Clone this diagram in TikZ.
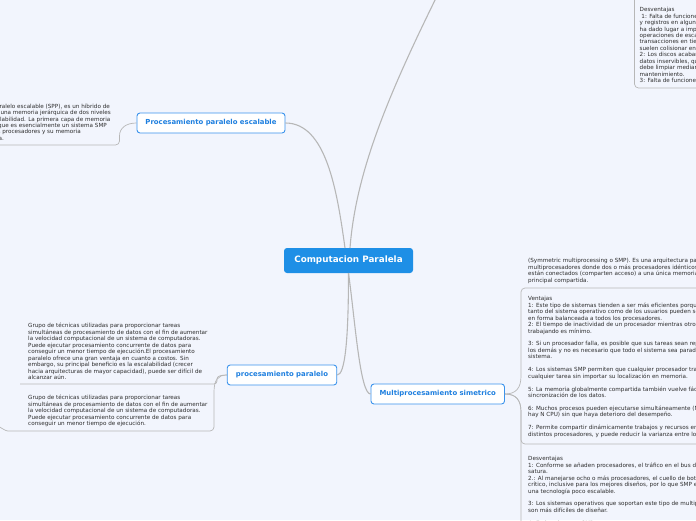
\documentclass[tikz,border=0pt]{standalone}
\usepackage{fontspec}
\setmainfont{DejaVu Sans}
\definecolor{bgc}{HTML}{F2F5FD}
\definecolor{rootblue}{HTML}{1E8FE6}
\definecolor{topicblue}{HTML}{3A92EC}
\definecolor{topictext}{HTML}{1E7FDF}
\definecolor{notegrey}{HTML}{2E2E2E}
\definecolor{conngrey}{HTML}{B7B7B7}
\tikzset{
  rootnode/.style={fill=rootblue, text=white, font=\fontsize{8.8}{10}\selectfont\bfseries,
    rounded corners=3pt, minimum width=129pt, minimum height=25pt, inner sep=0pt},
  topicnode/.style={fill=white, draw=topicblue, line width=0.9pt, text=topictext,
    font=\fontsize{6.9}{8}\selectfont\bfseries, rounded corners=3pt, minimum height=20pt, inner sep=0pt},
  notebox/.style={text=notegrey, font=\fontsize{5.65}{6.45}\selectfont, align=left,
    inner sep=0pt, anchor=north west},
  noteline/.style={text=notegrey, font=\fontsize{5.65}{6.45}\selectfont, inner sep=0pt, anchor=base east},
  mainconn/.style={draw=conngrey, line width=1.1pt},
  tconn/.style={draw=conngrey, line width=0.7pt},
}
\begin{document}
\begin{tikzpicture}[x=1pt,y=1pt]
\useasboundingbox (0,0) rectangle (696,-520);
\fill[bgc] (0,0) rectangle (696,-520);
\clip (0,0) rectangle (696,-520);

% main nodes
\node[rootnode] (c) at (348.5,-260.5) {Computacion Paralela};
\node[topicnode, minimum width=148pt] (pps) at (211,-123) {Procesamiento paralelo escalable};
\node[topicnode, minimum width=109.5pt] (pp) at (282,-375) {procesamiento paralelo};
\node[topicnode, minimum width=133.5pt] (ms) at (437.75,-394) {Multiprocesamiento simetrico};

% connector anchor points
\coordinate (ctopl) at (345,-248);
\coordinate (ctopr) at (350,-248);
\coordinate (cbot) at (348.5,-273);
\coordinate (offtop) at (445,20);

% main connectors
\draw[mainconn] (ctopl) .. controls (337,-190) and (326,-123) .. (pps.east);
\draw[mainconn] (ctopr) .. controls (356,-170) and (390,-90) .. (offtop);
\draw[mainconn] (cbot) .. controls (348.5,-340) and (345,-375) .. (pp.east);
\draw[mainconn] (cbot) .. controls (355,-320) and (360,-394) .. (ms.west);

% ---- top right note (child of off-canvas topic)
\node[notebox] (tr) at (639.5,-7.25) {Desventajas\\
\hspace*{1.7pt}1: Falta de funciones\\
y registros en algunos\\
ha dado lugar a imple\\
operaciones de escalado\\
transacciones en tiempo\\
suelen colisionar entre\\
2: Los discos acaban\\
datos inservibles, que\\
debe limpiar mediante\\
mantenimiento.\\
3: Falta de funciones};
\coordinate (trtop) at (634.5,5);
\coordinate (trend) at (700,-88);
\draw[tconn, rounded corners=4pt] (trtop) -- (634.5,-88) -- (trend);

% ---- upper left note (right-aligned line ends, cut by the left edge)
\node[noteline] (ul1) at (110,-108.1) {procesamiento paralelo escalable (SPP), es un híbrido de};
\node[noteline] (ul2) at (111,-114.55) {que utiliza una memoria jerárquica de dos niveles};
\node[noteline] (ul3) at (110.5,-121) {para alcanzar escalabilidad. La primera capa de memoria};
\node[noteline] (ul4) at (107,-127.45) {consiste en un nodo que es esencialmente un sistema SMP};
\node[noteline] (ul5) at (81,-133.9) {completo con múltiples procesadores y su memoria};
\node[noteline] (ul6) at (4,-140.35) {compartida.};
\coordinate (ulend) at (-5,-145);
\draw[tconn] (pps.west) .. controls (126,-123) and (119.5,-128) .. (119.5,-136)
  [rounded corners=4pt] -- (119.5,-145) -- (ulend);

% ---- procesamiento paralelo notes
\node[notebox] (ppa) at (28,-323.25) {Grupo de técnicas utilizadas para proporcionar tareas\\
simultáneas de procesamiento de datos con el fin de aumentar\\
la velocidad computacional de un sistema de computadoras.\\
Puede ejecutar procesamiento concurrente de datos para\\
conseguir un menor tiempo de ejecución.El procesamiento\\
paralelo ofrece una gran ventaja en cuanto a costos. Sin\\
embargo, su principal beneficio es la escalabilidad (crecer\\
hacia arquitecturas de mayor capacidad), puede ser difícil de\\
alcanzar aún.};
\node[notebox] (ppb) at (28,-395.25) {Grupo de técnicas utilizadas para proporcionar tareas\\
simultáneas de procesamiento de datos con el fin de aumentar\\
la velocidad computacional de un sistema de computadoras.\\
Puede ejecutar procesamiento concurrente de datos para\\
conseguir un menor tiempo de ejecución.};
\coordinate (ppaend) at (20,-384);
\coordinate (ppbend) at (-2,-426);
\draw[tconn] (pp.west) .. controls (221,-375) and (217,-376) .. (217,-379)
  [rounded corners=3pt] -- (217,-384) -- (ppaend);
\draw[tconn] (pp.west) .. controls (218,-375) and (214,-380) .. (214,-392)
  [rounded corners=4pt] -- (214,-431) -- (12,-431)
  [sharp corners] .. controls (6,-431) and (3,-429) .. (ppbend);

% ---- multiprocesamiento simetrico notes
\node[notebox] (msa) at (528,-258.25) {(Symmetric multiprocessing o SMP). Es una arquitectura para\\
multiprocesadores donde dos o más procesadores idénticos\\
están conectados (comparten acceso) a una única memoria\\
principal compartida.};
\node[notebox] (msb) at (528,-296.25) {Ventajas\\
1: Este tipo de sistemas tienden a ser más eficientes porque\\
tanto del sistema operativo como de los usuarios pueden ser\\
en forma balanceada a todos los procesadores.\\
2: El tiempo de inactividad de un procesador mientras otro está\\
trabajando es mínimo.\\
\mbox{}\\
3: Si un procesador falla, es posible que sus tareas sean repartidas\\
los demás y no es necesario que todo el sistema sea parado\\
sistema.\\
\mbox{}\\
4: Los sistemas SMP permiten que cualquier procesador trabaje\\
cualquier tarea sin importar su localización en memoria.\\
\mbox{}\\
5: La memoria globalmente compartida también vuelve fácil la\\
sincronización de los datos.\\
\mbox{}\\
6: Muchos procesos pueden ejecutarse simultáneamente (N\\
hay N CPU) sin que haya deterioro del desempeño.\\
\mbox{}\\
7: Permite compartir dinámicamente trabajos y recursos entre\\
distintos procesadores, y puede reducir la varianza entre los};
\node[notebox] (msc) at (528,-456.25) {Desventajas\\
1: Conforme se añaden procesadores, el tráfico en el bus de memoria\\
satura.\\
2.: Al manejarse ocho o más procesadores, el cuello de botella\\
crítico, inclusive para los mejores diseños, por lo que SMP es\\
una tecnología poco escalable.\\
\mbox{}\\
3: Los sistemas operativos que soportan este tipo de multiprocesamiento\\
son más difíciles de diseñar.\\
\mbox{}\\
4: En los sistemas SMP};
\coordinate (msaend) at (700,-288);
\coordinate (msbend) at (700,-444);
\coordinate (mscend) at (521,-530);
\draw[tconn] (ms.east) .. controls (516,-394) and (521,-388) .. (521,-376)
  [rounded corners=4pt] -- (521,-288) -- (msaend);
\draw[tconn] (ms.east) .. controls (516,-394) and (521,-400) .. (521,-412)
  [rounded corners=4pt] -- (521,-444) -- (msbend);
\draw[tconn] (ms.east) .. controls (516,-394) and (521,-400) .. (521,-412) -- (mscend);
\end{tikzpicture}
\end{document}
